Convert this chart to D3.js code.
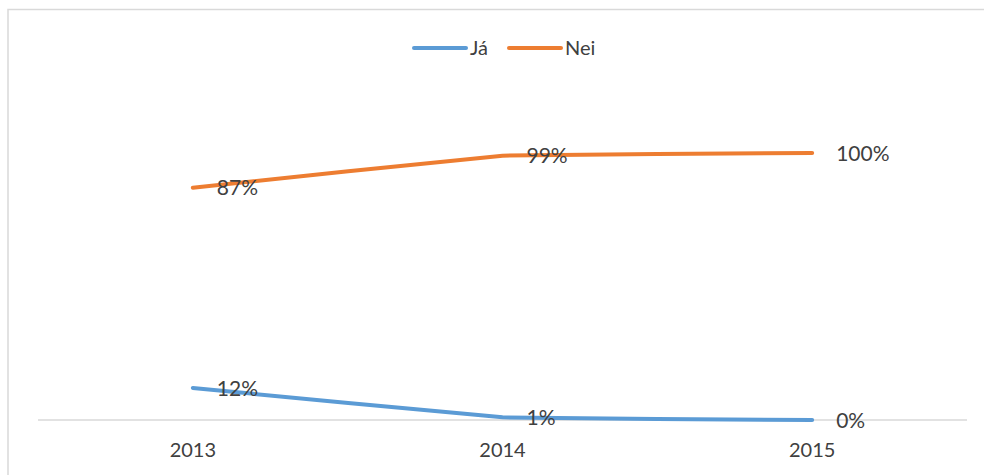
<!DOCTYPE html>
<head>
  <meta charset="utf-8">
  <script src="https://d3js.org/d3.v7.min.js"></script>
  <style>
    body { margin:0; background:#fff; }
    text { font-family: Lato, "Open Sans", sans-serif; fill:#404040; }
  </style>
</head>
<body>
  <div id=figure></div>
  <script>
    var years = ["2013", "2014", "2015"];
    var ja = [12, 1, 0];
    var nei = [87, 99, 100];
    var seriesNames = ["Já", "Nei"];
    var colours = ["#5b9bd5", "#ed7d31"];

    var W = 984, H = 475;
    var svg = d3.select("#figure").append("svg")
      .attr("width", W)
      .attr("height", H);

    // chart border (runs off the right and bottom edge)
    svg.append("rect")
      .attr("x", 8).attr("y", 9.5)
      .attr("width", W).attr("height", H)
      .style("fill", "none")
      .style("stroke", "#d9d9d9")
      .style("stroke-width", 1.5);

    var x = d3.scalePoint()
      .domain(years)
      .range([38, 967])
      .padding(0.5);

    var y = d3.scaleLinear()
      .domain([0, 100])
      .range([420, 153]);

    // category axis
    svg.append("line")
      .attr("x1", 38).attr("x2", 967)
      .attr("y1", y(0)).attr("y2", y(0))
      .style("stroke", "#d9d9d9")
      .style("stroke-width", 1.5);

    svg.selectAll(".tick-label").data(years).enter().append("text")
      .attr("class", "tick-label")
      .attr("x", function(d){ return x(d); })
      .attr("y", 457)
      .attr("text-anchor", "middle")
      .style("font-size", "20px")
      .text(function(d){ return d; });

    var series = [ja, nei];
    var line = d3.line()
      .x(function(d, i){ return x(years[i]); })
      .y(function(d){ return y(d); })
      .curve(d3.curveCardinal.tension(0.8));

    series.forEach(function(s, k) {
      svg.append("path")
        .datum(s)
        .attr("d", line)
        .style("fill", "none")
        .style("stroke", colours[k])
        .style("stroke-width", 4)
        .style("stroke-linecap", "round");
    });

    series.forEach(function(s) {
      svg.selectAll(null).data(s).enter().append("text")
        .attr("x", function(d, i){ return x(years[i]) + 24; })
        .attr("y", function(d){ return y(d); })
        .attr("dy", "0.36em")
        .style("font-size", "21px")
        .text(function(d){ return d + "%"; });
    });

    // legend
    var legend = svg.selectAll(".legend").data(seriesNames).enter().append("g")
      .attr("class", "legend")
      .attr("transform", function(d, i){ return "translate(" + (414 + i * 95) + ",48)"; });

    legend.append("line")
      .attr("x1", 0).attr("x2", 52)
      .style("stroke", function(d, i){ return colours[i]; })
      .style("stroke-width", 4)
      .style("stroke-linecap", "round");

    legend.append("text")
      .attr("x", 56)
      .attr("dy", "0.36em")
      .style("font-size", "20px")
      .text(function(d){ return d; });
  </script>
</body>
